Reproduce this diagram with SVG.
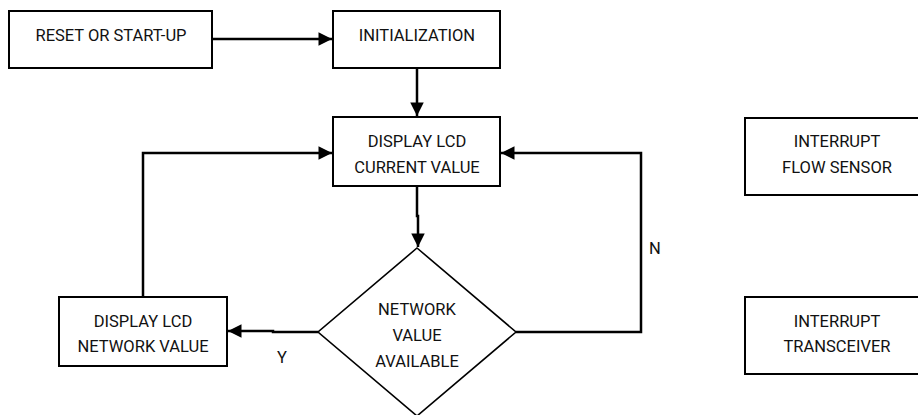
<svg xmlns="http://www.w3.org/2000/svg" width="918" height="415" viewBox="0 0 918 415">
  <style>
    .box { fill: #fff; stroke: #000; stroke-width: 2; }
    .dia { fill: #fff; stroke: #000; stroke-width: 1.6; }
    .lbl { font-family: Roboto, "Liberation Sans", Arial, sans-serif; font-size: 16.5px; fill: #111; text-anchor: middle; }
    .wire { fill: none; stroke: #000; stroke-width: 2.5; }
  </style>
  <defs>
    <marker id="arrow" viewBox="0 0 10 10" refX="10" refY="5" markerWidth="6" markerHeight="5.4" markerUnits="strokeWidth" orient="auto">
      <path d="M0,0 L10,5 L0,10 z" fill="#000"/>
    </marker>
  </defs>

  <g id="connectors">
    <line class="wire" x1="212" y1="39" x2="332" y2="39" marker-end="url(#arrow)"/>
    <line class="wire" x1="417" y1="68" x2="417" y2="116" marker-end="url(#arrow)"/>
    <path class="wire" d="M417,186 V216 H418 V247" marker-end="url(#arrow)"/>
    <path class="wire" d="M143,297 V153 H332" marker-end="url(#arrow)"/>
    <path class="wire" d="M318,332 H273 V331 H228" marker-end="url(#arrow)"/>
    <path class="wire" d="M516,332 H641 V153 H501" marker-end="url(#arrow)"/>
    <text class="lbl" x="282" y="363">Y</text>
    <text class="lbl" x="655" y="254">N</text>
  </g>

  <g id="reset">
    <rect class="box" x="9" y="11" width="203" height="57"/>
    <text class="lbl" x="111" y="41">RESET OR START-UP</text>
  </g>

  <g id="init">
    <rect class="box" x="333" y="11" width="167" height="57"/>
    <text class="lbl" x="417" y="41">INITIALIZATION</text>
  </g>

  <g id="display-current">
    <rect class="box" x="333" y="117" width="167" height="69"/>
    <text class="lbl" x="417" y="147">DISPLAY LCD</text>
    <text class="lbl" x="417" y="173">CURRENT VALUE</text>
  </g>

  <g id="decision">
    <polygon class="dia" points="417,248 516,332 417,416 318,332"/>
    <text class="lbl" x="417" y="315">NETWORK</text>
    <text class="lbl" x="417" y="341">VALUE</text>
    <text class="lbl" x="417" y="367">AVAILABLE</text>
  </g>

  <g id="display-network">
    <rect class="box" x="59" y="297" width="168" height="69"/>
    <text class="lbl" x="143" y="327">DISPLAY LCD</text>
    <text class="lbl" x="143" y="352">NETWORK VALUE</text>
  </g>

  <g id="irq-flow">
    <rect class="box" x="745" y="118" width="184" height="77"/>
    <text class="lbl" x="837" y="147">INTERRUPT</text>
    <text class="lbl" x="837" y="173">FLOW SENSOR</text>
  </g>

  <g id="irq-transceiver">
    <rect class="box" x="745" y="297" width="184" height="77"/>
    <text class="lbl" x="837" y="327">INTERRUPT</text>
    <text class="lbl" x="837" y="352">TRANSCEIVER</text>
  </g>
</svg>
